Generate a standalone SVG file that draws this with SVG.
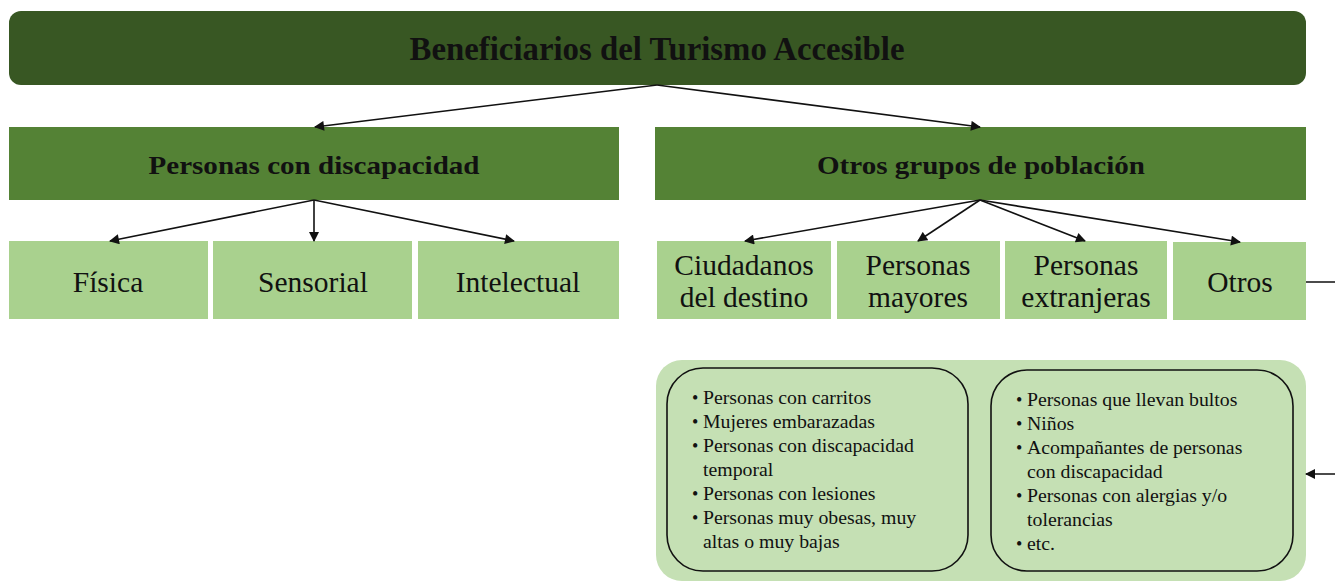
<svg xmlns="http://www.w3.org/2000/svg" width="1335" height="581" viewBox="0 0 1335 581">
<style>
.t { font-family: "Liberation Serif", "Times New Roman", serif; fill: #111; }
.b { font-weight: bold; }
.c { text-anchor: middle; }
.lvl3 { fill: #a9d18e; }
.lvl2 { fill: #548235; }
.lbl { font-size: 29.5px; }
.li { font-size: 19.8px; }
.bu { font-size: 18px; }
.conn { stroke: #111; stroke-width: 1.6; fill: none; marker-end: url(#arr); }
</style>
<defs>
<marker id="arr" viewBox="0 0 10 10" refX="9" refY="5" markerWidth="11" markerHeight="10" markerUnits="userSpaceOnUse" orient="auto">
<path d="M0,0 L10,5 L0,10 z" fill="#111"/>
</marker>
</defs>
<rect width="1335" height="581" fill="#fff"/>

<g id="root">
<rect x="9" y="11" width="1297" height="74" rx="12" fill="#385723"/>
<text class="t b c" x="657" y="60" font-size="34" textLength="495" lengthAdjust="spacingAndGlyphs">Beneficiarios del Turismo Accesible</text>
</g>

<g id="discapacidad">
<rect class="lvl2" x="9" y="127" width="610" height="73"/>
<text class="t b c" x="314" y="174" font-size="26" textLength="331" lengthAdjust="spacingAndGlyphs">Personas con discapacidad</text>
</g>
<g id="otros-grupos">
<rect class="lvl2" x="655" y="127" width="651" height="73"/>
<text class="t b c" x="981" y="174" font-size="26" textLength="328" lengthAdjust="spacingAndGlyphs">Otros grupos de población</text>
</g>

<g id="fisica">
<rect class="lvl3" x="9" y="241" width="199" height="78"/>
<text class="t c lbl" x="108" y="292">Física</text>
</g>
<g id="sensorial">
<rect class="lvl3" x="213" y="241" width="199" height="78"/>
<text class="t c lbl" x="313" y="292">Sensorial</text>
</g>
<g id="intelectual">
<rect class="lvl3" x="418" y="241" width="201" height="78"/>
<text class="t c lbl" x="518" y="292">Intelectual</text>
</g>

<g id="ciudadanos">
<rect class="lvl3" x="657" y="241" width="174" height="78"/>
<text class="t c lbl" x="744" y="275">Ciudadanos</text>
<text class="t c lbl" x="744" y="307">del destino</text>
</g>
<g id="mayores">
<rect class="lvl3" x="837" y="241" width="163" height="78"/>
<text class="t c lbl" x="918" y="275">Personas</text>
<text class="t c lbl" x="918" y="307">mayores</text>
</g>
<g id="extranjeras">
<rect class="lvl3" x="1005" y="241" width="162" height="78"/>
<text class="t c lbl" x="1086" y="275">Personas</text>
<text class="t c lbl" x="1086" y="307">extranjeras</text>
</g>
<g id="otros">
<rect class="lvl3" x="1173" y="242" width="133" height="78"/>
<text class="t c lbl" x="1240" y="292">Otros</text>
</g>

<g id="otros-detalle">
<rect x="656" y="360" width="650" height="221" rx="26" fill="#c5e0b4"/>
<rect x="667" y="368" width="301" height="203" rx="36" fill="none" stroke="#111" stroke-width="1.6"/>
<rect x="991" y="370" width="302" height="201" rx="36" fill="none" stroke="#111" stroke-width="1.6"/>
<g class="t li">
<text class="bu" x="692" y="404">•</text><text x="703" y="404">Personas con carritos</text>
<text class="bu" x="692" y="428">•</text><text x="703" y="428">Mujeres embarazadas</text>
<text class="bu" x="692" y="452">•</text><text x="703" y="452">Personas con discapacidad</text>
<text x="703" y="476">temporal</text>
<text class="bu" x="692" y="500">•</text><text x="703" y="500">Personas con lesiones</text>
<text class="bu" x="692" y="524">•</text><text x="703" y="524">Personas muy obesas, muy</text>
<text x="703" y="548">altas o muy bajas</text>

<text class="bu" x="1016" y="406">•</text><text x="1027" y="406">Personas que llevan bultos</text>
<text class="bu" x="1016" y="430">•</text><text x="1027" y="430">Niños</text>
<text class="bu" x="1016" y="454">•</text><text x="1027" y="454">Acompañantes de personas</text>
<text x="1027" y="478">con discapacidad</text>
<text class="bu" x="1016" y="502">•</text><text x="1027" y="502">Personas con alergias y/o</text>
<text x="1027" y="526">tolerancias</text>
<text class="bu" x="1016" y="550">•</text><text x="1027" y="550">etc.</text>
</g>
</g>

<g id="connectors">
<line class="conn" x1="657" y1="85" x2="315" y2="127"/>
<line class="conn" x1="657" y1="85" x2="980" y2="127"/>
<line class="conn" x1="314" y1="200" x2="110" y2="241"/>
<line class="conn" x1="314" y1="200" x2="314" y2="241"/>
<line class="conn" x1="314" y1="200" x2="514" y2="241"/>
<line class="conn" x1="980" y1="200" x2="745" y2="241"/>
<line class="conn" x1="980" y1="200" x2="918" y2="241"/>
<line class="conn" x1="980" y1="200" x2="1085" y2="241"/>
<line class="conn" x1="980" y1="200" x2="1240" y2="242"/>
<path class="conn" d="M1306,282 H1350 V474 H1306"/>
</g>
</svg>
